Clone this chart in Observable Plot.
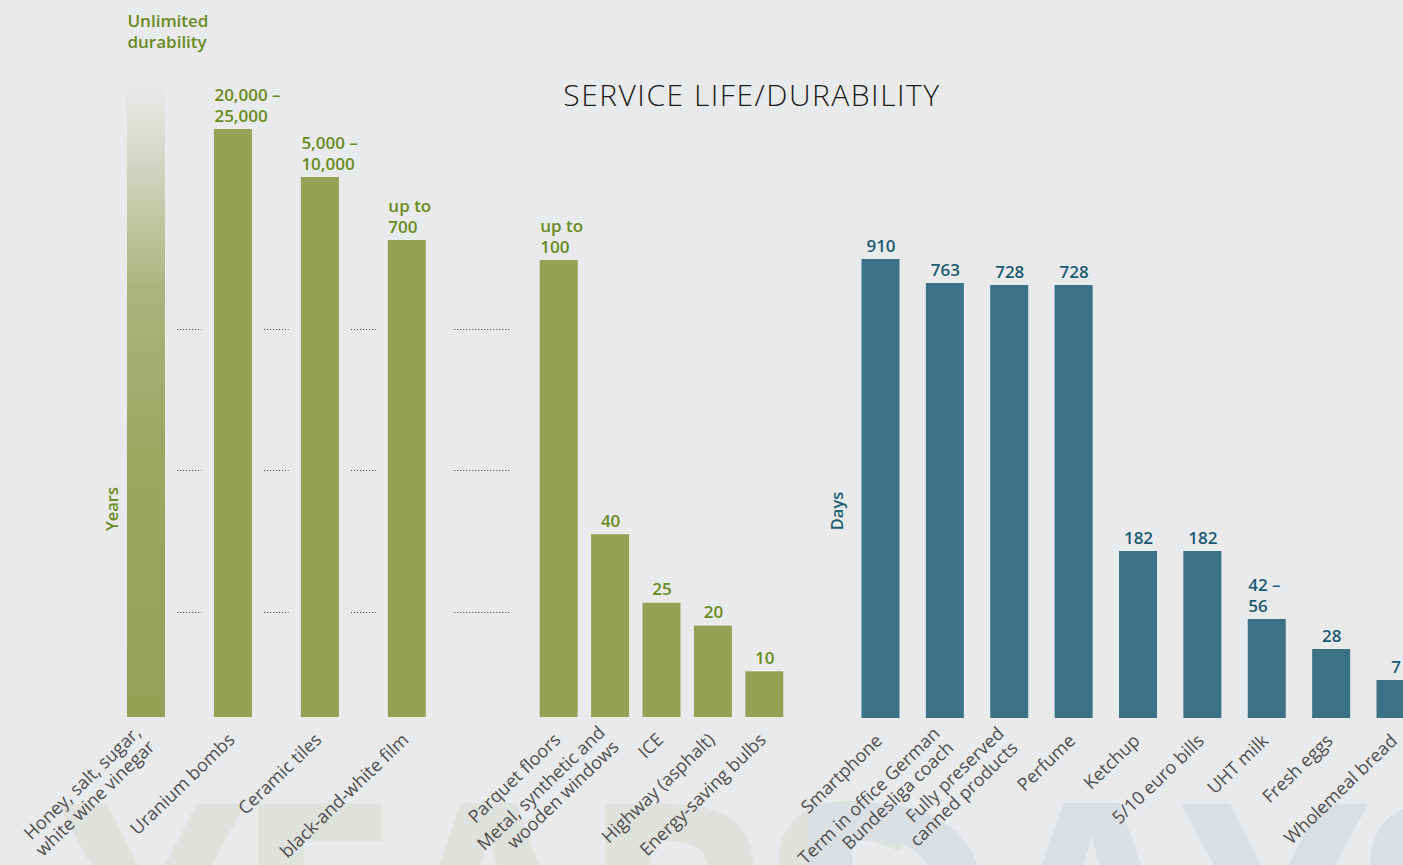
<!DOCTYPE html>
<html>
<head>
<meta charset="utf-8">
<script src="https://cdn.jsdelivr.net/npm/d3@7"></script>
<script src="https://cdn.jsdelivr.net/npm/@observablehq/plot@0.6"></script>
<style>
  html, body { margin: 0; padding: 0; background: #e9eaec; overflow: hidden; }
  #chart { position: relative; width: 1403px; height: 865px; overflow: hidden; background: #e9eaec; }
  #chart > svg { position: absolute; left: 0; top: 0; overflow: visible; }
</style>
</head>
<body>
<div id="chart"></div>
<script>
// ---------------- data ----------------
const title = "SERVICE LIFE/DURABILITY";
const UNLIMITED = 50000; // stands for "unlimited" (top of the broken years axis)

const yearsCatsA = ["Honey, salt, sugar,\nwhite wine vinegar", "Uranium bombs", "Ceramic tiles", "black-and-white film"];
const yearsValuesA = [UNLIMITED, 25000, 10000, 700];
const yearsLabelsA = ["Unlimited\ndurability", "20,000 –\n25,000", "5,000 –\n10,000", "up to\n700"];

const yearsCatsB = ["Parquet floors", "Metal, synthetic and\nwooden windows", "ICE", "Highway (asphalt)", "Energy-saving bulbs"];
const yearsValuesB = [100, 40, 25, 20, 10];
const yearsLabelsB = ["up to\n100", "40", "25", "20", "10"];

const daysCats = ["Smartphone", "Term in office German\nBundesliga coach", "Fully preserved\ncanned products", "Perfume", "Ketchup", "5/10 euro bills", "UHT milk", "Fresh eggs", "Wholemeal bread"];
const daysValues = [910, 763, 728, 728, 182, 182, 56, 28, 7];
const daysLabels = ["910", "763", "728", "728", "182", "182", "42 –\n56", "28", "7"];

// broken-axis break levels (years)
const breakLevels = [85, 54, 23];

// ---------------- styles ----------------
const FONT = '"Open Sans", sans-serif';
const GREEN = "#96a156", GREEN_TEXT = "#6a8a22";
const BLUE = "#3c7286", BLUE_TEXT = "#1b5a70";
const LABEL_GRAY = "#4f4f4f";

const chart = document.getElementById("chart");

// ---------------- decoration (watermark, title, axis names) ----------------
const deco = d3.select(chart).append("svg")
  .attr("width", 1403).attr("height", 865).style("font-family", FONT);
deco.append("text").attr("x", 58).attr("y", 1018).attr("font-size", 300).attr("font-weight", 700)
  .attr("letter-spacing", -14).attr("fill", "#dfe1dc").text("YEARS");
deco.append("text").attr("x", 780).attr("y", 1018).attr("font-size", 300).attr("font-weight", 700)
  .attr("letter-spacing", -14).attr("fill", "#d9dfe3").text("DAYS");
deco.append("text").attr("x", 752).attr("y", 106).attr("text-anchor", "middle")
  .attr("font-size", 30).attr("font-weight", 300).attr("letter-spacing", 1.5).attr("fill", "#1a1a1a").text(title);
deco.append("text").attr("transform", "translate(118,509) rotate(-90)").attr("text-anchor", "middle")
  .attr("font-size", 16.5).attr("font-weight", 600).attr("fill", GREEN_TEXT).text("Years");
deco.append("text").attr("transform", "translate(843,511) rotate(-90)").attr("text-anchor", "middle")
  .attr("font-size", 16.5).attr("font-weight", 600).attr("fill", BLUE_TEXT).text("Days");

// ---------------- scales ----------------
const yYears = {type: "linear", domain: [0, 100, 700, 10000, 25000, UNLIMITED], range: [717, 260, 240, 177, 129, 82]};
const yDays = {type: "linear", domain: [0, 7, 28, 56, 182, 728, 763, 910], range: [718, 680, 649, 619, 551, 285, 283, 259]};
const xA = {type: "band", domain: yearsCatsA, range: [102.5, 450.3], paddingInner: 0.563, paddingOuter: 0.2815, round: false};
const xB = {type: "band", domain: yearsCatsB, range: [533, 790], paddingInner: 0.2607, paddingOuter: 0.13035, round: false};
const xC = {type: "band", domain: daysCats, range: [848.3, 1427.7], paddingInner: 0.4097, paddingOuter: 0.20485, round: false};

const sxA = Plot.scale({x: xA}), sxB = Plot.scale({x: xB}), syY = Plot.scale({y: yYears});

const toRows = (cats, values, labels) => cats.map((name, i) => ({name, value: values[i], label: labels[i]}));
const dataA = toRows(yearsCatsA, yearsValuesA, yearsLabelsA);
const dataB = toRows(yearsCatsB, yearsValuesB, yearsLabelsB);
const dataC = toRows(daysCats, daysValues, daysLabels);

const isMulti = d => d.label.includes("\n");
const isUnlimited = d => d.value === UNLIMITED;

const baseOpts = {width: 1403, height: 865, margin: 0,
  style: {background: "transparent", overflow: "visible", fontFamily: FONT}};

function valueLabels(data, fill, bw) {
  return [
    Plot.text(data.filter(d => isMulti(d) && !isUnlimited(d)), {x: "name", y: "value", text: "label",
      textAnchor: "start", lineAnchor: "bottom", dx: -bw / 2, dy: -8, fill, fontSize: 17, fontWeight: 600, lineHeight: 1.22}),
    Plot.text(data.filter(d => !isMulti(d)), {x: "name", y: "value", text: "label",
      textAnchor: "middle", lineAnchor: "bottom", dy: -8, fill, fontSize: 17, fontWeight: 600})
  ];
}
function categoryLabels(data) {
  return Plot.text(data, {x: "name", y: 0, text: "name", rotate: -44, textAnchor: "end", lineAnchor: "middle",
    dx: -2, dy: 19, fill: LABEL_GRAY, fontSize: 18, lineHeight: 1.1});
}

// gradient defs for the "unlimited" bar
const gradientDefs = () => {
  const defs = d3.create("svg:defs");
  const g = defs.append("linearGradient").attr("id", "fadeGreen")
    .attr("x1", 0).attr("y1", 0).attr("x2", 0).attr("y2", 1);
  [[0, 0], [0.06, 0.12], [0.19, 0.43], [0.34, 0.76], [0.6, 0.93], [1, 1]].forEach(([o, a]) =>
    g.append("stop").attr("offset", o).attr("stop-color", GREEN).attr("stop-opacity", a));
  return defs.node();
};

// dotted break marks in the gaps between the large years bars
const breakMarks = () => {
  const edges = [
    ...yearsCatsA.map(c => [sxA.apply(c), sxA.apply(c) + sxA.bandwidth]),
    [sxB.apply(yearsCatsB[0]), sxB.apply(yearsCatsB[0]) + sxB.bandwidth]
  ];
  const g = d3.create("svg:g").attr("stroke", "#333").attr("stroke-width", 1).attr("stroke-dasharray", "1,2");
  for (let i = 0; i < edges.length - 1; i++) {
    const l = edges[i][1], r = edges[i + 1][0], inset = 0.25 * (r - l);
    for (const v of breakLevels) {
      const y = Math.round(syY.apply(v)) + 0.5;
      g.append("line").attr("x1", l + inset).attr("x2", r - inset).attr("y1", y).attr("y2", y);
    }
  }
  return g.node();
};

// ---------------- plots ----------------
const plotA = Plot.plot({...baseOpts,
  x: {...xA, axis: null}, y: {...yYears, axis: null},
  marks: [
    gradientDefs,
    breakMarks,
    Plot.barY(dataA.filter(isUnlimited), {x: "name", y: "value", fill: "url(#fadeGreen)"}),
    Plot.barY(dataA.filter(d => !isUnlimited(d)), {x: "name", y: "value", fill: GREEN}),
    Plot.text(dataA.filter(isUnlimited), {x: "name", y: "value", text: "label", textAnchor: "start",
      lineAnchor: "bottom", dx: -sxA.bandwidth / 2, dy: -35, fill: GREEN_TEXT, fontSize: 17, fontWeight: 600, lineHeight: 1.22}),
    ...valueLabels(dataA, GREEN_TEXT, sxA.bandwidth),
    categoryLabels(dataA)
  ]});

const plotB = Plot.plot({...baseOpts,
  x: {...xB, axis: null}, y: {...yYears, axis: null},
  marks: [
    Plot.barY(dataB, {x: "name", y: "value", fill: GREEN}),
    ...valueLabels(dataB, GREEN_TEXT, sxB.bandwidth),
    categoryLabels(dataB)
  ]});

const sxC = Plot.scale({x: xC});
const plotC = Plot.plot({...baseOpts,
  x: {...xC, axis: null}, y: {...yDays, axis: null},
  marks: [
    Plot.barY(dataC, {x: "name", y: "value", fill: BLUE}),
    ...valueLabels(dataC, BLUE_TEXT, sxC.bandwidth),
    categoryLabels(dataC)
  ]});

chart.append(plotA, plotB, plotC);
</script>
</body>
</html>
